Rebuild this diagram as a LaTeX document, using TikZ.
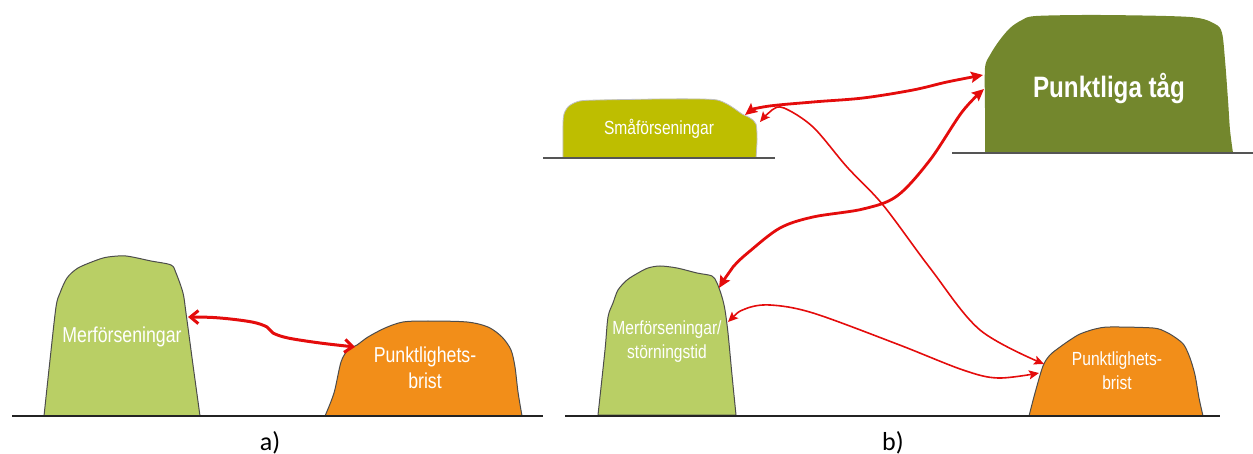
\documentclass[tikz,border=0pt]{standalone}
\usepackage{fontspec}
\setmainfont{Liberation Sans}
\newfontfamily\narrowsans[FakeStretch=0.82]{Liberation Sans}
\newfontfamily\capfont{Carlito}
\usetikzlibrary{arrows.meta}

\definecolor{lightgreen}{RGB}{185,207,101}
\definecolor{orangefill}{RGB}{242,142,25}
\definecolor{olivefill}{RGB}{190,190,0}
\definecolor{darkolive}{RGB}{115,135,45}
\definecolor{arrowred}{RGB}{228,12,12}
\definecolor{groundgray}{RGB}{35,35,35}
\definecolor{uppergray}{RGB}{85,85,85}

\begin{document}
\begin{tikzpicture}[x=0.5pt,y=-0.5pt,
  ground/.style={draw=groundgray,line width=1pt},
  upperground/.style={draw=uppergray,line width=1pt},
  hill/.style={draw=black!70,line width=0.5pt},
  hilltxt/.style={text=white,font=\narrowsans\fontsize{9.5}{12}\selectfont,align=center,inner sep=0pt},
  hilltxtA/.style={text=white,font=\narrowsans\fontsize{10.8}{13}\selectfont,align=center,inner sep=0pt},
  bigtxt/.style={text=white,font=\narrowsans\bfseries\fontsize{14.75}{18}\selectfont,inner sep=0pt},
  captxt/.style={font=\capfont\fontsize{13}{15}\selectfont,anchor=base,inner sep=0pt},
  barblink/.style={draw=arrowred,line width=1.5pt,
    {Straight Barb[length=4pt,width=6.5pt]}-{Straight Barb[length=4pt,width=6.5pt]}},
  thicklink/.style={draw=arrowred,line width=1.4pt,
    {Stealth[length=6pt,width=5.5pt,inset=1pt]}-{Stealth[length=6pt,width=5.5pt,inset=1pt]}},
  thinlink/.style={draw=arrowred,line width=0.8pt,
    {Stealth[length=5pt,width=4.5pt,inset=1pt]}-{Stealth[length=5pt,width=4.5pt,inset=1pt]}}
]
\useasboundingbox (0,0) rectangle (1253,454);

% ---------- part a) ----------
\filldraw[hill,fill=lightgreen] plot[smooth,tension=0.5] coordinates {
  (44,416) (50,360) (56,307) (60,293) (67,278) (78,268) (97,260) (108,257)
  (126,256) (151,261) (171,265) (176,273) (183,293) (186,313) (193,365) (200,416)} -- cycle;
\filldraw[hill,fill=orangefill] plot[smooth,tension=0.5] coordinates {
  (325,416) (334,393) (341,362) (348,350) (357,345) (368,337) (385,328) (403,322)
  (428,321) (467,322) (488,327) (502,337) (511,350) (515,367) (518,392) (522,416)} -- cycle;
\draw[ground] (12,416) -- (543,416);

\node[hilltxtA] (merfA) at (122,337) {Merförseningar};
\node[hilltxtA] (punktA) at (425,368) {Punktlighets-\\brist};

\coordinate (aL) at (188,317);
\coordinate (aR) at (355,347);
\draw[barblink] plot[smooth,tension=0.55] coordinates {
  (aL) (220,318) (252,322) (267,327) (273,333) (288,338) (320,343) (aR)};

\node[captxt] (capA) at (270,450) {a)};

% ---------- part b) ----------
% Småförseningar
\filldraw[draw=black!25,line width=0.4pt,fill=olivefill] plot[smooth,tension=0.5] coordinates {
  (563,158) (563,125) (564,114) (569,106) (580,101) (600,100) (660,99) (700,99)
  (717,100) (727,104) (735,109) (742,114) (750,118) (756,124) (757,140) (756,158)} -- cycle;
\draw[upperground] (543,158) -- (775,158);
\node[hilltxt] (smaB) at (659,129) {Småförseningar};

% Punktliga tåg
\fill[darkolive] plot[smooth,tension=0.5] coordinates {
  (985,153) (985,110) (985,68) (990,55) (999,41) (1010,28) (1022,20) (1036,16)
  (1100,15) (1190,17) (1215,24) (1222,33) (1225,60) (1228,100) (1230,130) (1233,153)} -- cycle;
\draw[upperground] (952,153) -- (1253,153);
\node[bigtxt] (punktB) at (1109,88) {Punktliga tåg};

% Merförseningar/störningstid
\filldraw[hill,fill=lightgreen] plot[smooth,tension=0.5] coordinates {
  (598,415) (605,350) (608,317) (613,303) (618,290) (627,280) (638,273) (648,268)
  (660,266) (677,268) (697,273) (712,276) (717,283) (722,297) (725,310) (728,333)
  (732,375) (736,415)} -- cycle;
\node[hilltxt] (merfB) at (667,342) {Merförseningar/\\störningstid};

% Punktlighetsbrist
\filldraw[hill,fill=orangefill] plot[smooth,tension=0.5] coordinates {
  (1029,416) (1035,393) (1043,366) (1050,355) (1060,347) (1070,340) (1080,334)
  (1095,329) (1110,327) (1153,328) (1166,332) (1176,338) (1184,345) (1190,358)
  (1195,375) (1199,398) (1203,416)} -- cycle;
\node[hilltxt] (punktBrist) at (1117,371) {Punktlighets-\\brist};

\draw[ground] (565,416) -- (1220,416);

% connectors
\coordinate (smaT) at (745,115);
\coordinate (smaS) at (760,122);
\coordinate (ptgT) at (983,75);
\coordinate (ptgS) at (984,89);
\coordinate (merfT) at (719,288);
\coordinate (merfS) at (728,322);
\coordinate (brT) at (1044,364);
\coordinate (brS) at (1039,373);

\draw[thicklink] plot[smooth,tension=0.55] coordinates {
  (smaT) (763,107) (813,102) (863,98) (913,90) (947,82) (ptgT)};
\draw[thicklink] plot[smooth,tension=0.55] coordinates {
  (merfT) (733,267) (750,251) (780,228) (813,217) (863,209) (897,196) (930,160) (962,112) (ptgS)};
\draw[thinlink] plot[smooth,tension=0.55] coordinates {
  (smaS) (772,110) (784,108) (813,127) (847,167) (883,205) (930,268) (980,330) (brT)};
\draw[thinlink] plot[smooth,tension=0.55] coordinates {
  (merfS) (745,309) (770,305) (813,313) (897,344) (963,370) (998,378) (brS)};

\node[captxt] (capB) at (893,450) {b)};
\end{tikzpicture}
\end{document}
